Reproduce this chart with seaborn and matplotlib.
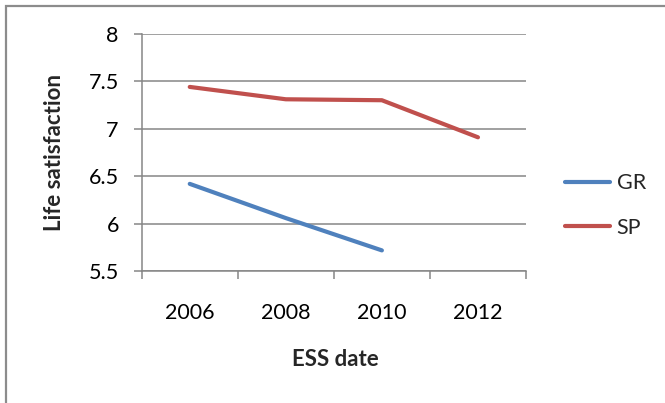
import matplotlib
matplotlib.use("Agg")
import matplotlib.pyplot as plt
import matplotlib.ticker as mticker
from matplotlib.patches import Rectangle
from matplotlib.lines import Line2D
import numpy as np
import pandas as pd
import seaborn as sns

# ESS survey rounds and mean life satisfaction per country
years = ["2006", "2008", "2010", "2012"]
gr_values = [6.42, 6.06, 5.72, np.nan]
sp_values = [7.44, 7.31, 7.30, 6.91]
countries = ["GR", "SP"]
colors = {"GR": "#4F81BD", "SP": "#C0504D"}
y_ticks = [5.5, 6, 6.5, 7, 7.5, 8]

df = pd.DataFrame({
    "ESS date": years * 2,
    "Life satisfaction": gr_values + sp_values,
    "country": ["GR"] * len(years) + ["SP"] * len(years),
})

sns.set_theme(style="white")
plt.rcParams["font.family"] = ["Lato", "DejaVu Sans"]

W, H = 665, 403
fig = plt.figure(figsize=(W / 100, H / 100), dpi=100)
ax = fig.add_axes([141.7 / W, 1 - 271.3 / H, (526 - 141.7) / W, (271.3 - 33.7) / H])

grey = "#868686"

sns.lineplot(data=df, x="ESS date", y="Life satisfaction", hue="country",
             palette=colors, linewidth=3.0, ax=ax, legend=False, sort=False)
for ln in ax.lines:
    ln.set_solid_capstyle("round")
    ln.set_solid_joinstyle("round")

ax.set_ylim(5.5, 8)
ax.set_xlim(-0.5, len(years) - 0.5)

# y axis: gridlines and outward tick marks
ax.set_yticks(y_ticks)
ax.yaxis.set_major_formatter(mticker.FormatStrFormatter("%g"))
ax.yaxis.grid(True, color=grey, linewidth=1.1)
ax.set_axisbelow(True)
ax.tick_params(axis="y", which="major", left=True, length=5.5, width=1.1,
               color=grey, direction="out", pad=11, labelsize=15.5, labelcolor="black")

# x axis: tick marks between categories, labels centred on categories
ax.set_xticks(np.arange(-0.5, len(years), 1.0))
ax.set_xticks(np.arange(len(years)), minor=True)
ax.set_xticklabels([], minor=False)
ax.set_xticklabels(years, minor=True)
ax.tick_params(axis="x", which="major", bottom=True, length=5.5, width=1.1,
               color=grey, direction="out")
ax.tick_params(axis="x", which="minor", bottom=True, length=0, pad=23,
               labelsize=15.5, labelcolor="black")

for side in ["top", "right"]:
    ax.spines[side].set_visible(False)
for side in ["left", "bottom"]:
    ax.spines[side].set_color(grey)
    ax.spines[side].set_linewidth(1.1)

ax.set_xlabel("ESS date", fontsize=16, fontweight="bold", va="center")
ax.xaxis.set_label_coords(0.503, -0.373)
ax.set_ylabel("Life satisfaction", fontsize=16, fontweight="bold", va="center")
ax.yaxis.set_label_coords(-0.228, 0.5)

handles = [Line2D([0], [0], color=colors[c], linewidth=3.0, solid_capstyle="round")
           for c in countries]
leg = ax.legend(handles, countries, loc="center left",
                bbox_to_anchor=(565 / W, 1 - 205.5 / H), bbox_transform=fig.transFigure,
                frameon=False, fontsize=15.5, handlelength=2.1, handletextpad=0.3,
                labelspacing=1.15, borderpad=0, borderaxespad=0)

# chart-area border
fig.patches.append(Rectangle((6 / W, -0.2), 1.2, 1.2 - 6 / H,
                             transform=fig.transFigure, fill=False,
                             edgecolor="#8c8c8c", linewidth=1.6))

fig.savefig("out.png", dpi=100)
